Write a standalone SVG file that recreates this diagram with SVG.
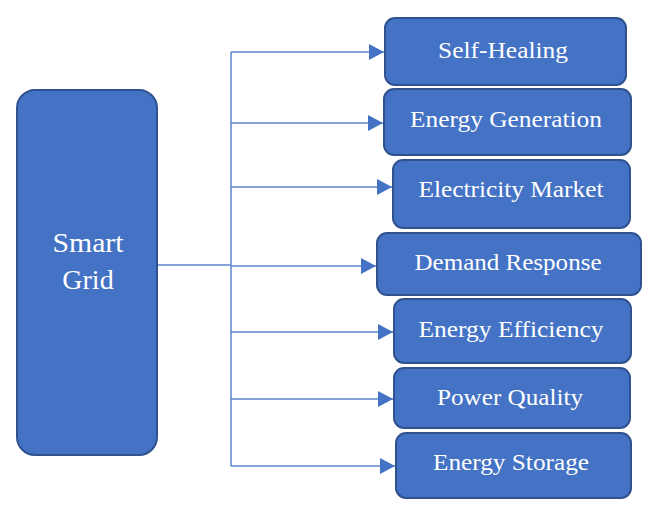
<svg xmlns="http://www.w3.org/2000/svg" width="662" height="512" viewBox="0 0 662 512">
  <style>
    .box { fill: #4472C4; stroke: #2F528F; stroke-width: 2; }
    .lbl { font-family: 'Liberation Serif', 'Times New Roman', serif; fill: #ffffff; text-anchor: middle; font-size: 23px; }
    .big { font-size: 28px; }
    .conn { fill: none; stroke: #5B84CC; stroke-width: 1.5; }
  </style>
  <defs>
    <marker id="arr" markerUnits="userSpaceOnUse" markerWidth="15" markerHeight="16" refX="15" refY="8" orient="auto">
      <path d="M0,0 L15,8 L0,16 Z" fill="#4472C4"/>
    </marker>
  </defs>
  <rect width="662" height="512" fill="#ffffff"/>
  <g id="connectors">
    <path class="conn" d="M157,265 H231"/>
    <path class="conn" d="M231,52 V466"/>
    <path class="conn" d="M231,52 H384" marker-end="url(#arr)"/>
    <path class="conn" d="M231,123 H383" marker-end="url(#arr)"/>
    <path class="conn" d="M231,187 H392" marker-end="url(#arr)"/>
    <path class="conn" d="M231,266 H376" marker-end="url(#arr)"/>
    <path class="conn" d="M231,332 H393" marker-end="url(#arr)"/>
    <path class="conn" d="M231,399 H393" marker-end="url(#arr)"/>
    <path class="conn" d="M231,466 H395" marker-end="url(#arr)"/>
  </g>
  <g id="smart-grid">
    <rect class="box" x="17" y="90" width="140" height="365" rx="18"/>
    <text class="lbl big" x="88" y="252" textLength="71" lengthAdjust="spacingAndGlyphs">Smart</text>
    <text class="lbl big" x="88" y="289">Grid</text>
  </g>
  <g id="self-healing">
    <rect class="box" x="385" y="18" width="241" height="67" rx="10"/>
    <text class="lbl" x="503" y="58" textLength="130" lengthAdjust="spacingAndGlyphs">Self-Healing</text>
  </g>
  <g id="energy-generation">
    <rect class="box" x="384" y="89" width="247" height="66" rx="10"/>
    <text class="lbl" x="506" y="127" textLength="192" lengthAdjust="spacingAndGlyphs">Energy Generation</text>
  </g>
  <g id="electricity-market">
    <rect class="box" x="393" y="160" width="237" height="68" rx="10"/>
    <text class="lbl" x="511" y="197" textLength="185" lengthAdjust="spacingAndGlyphs">Electricity Market</text>
  </g>
  <g id="demand-response">
    <rect class="box" x="377" y="233" width="264" height="62" rx="10"/>
    <text class="lbl" x="508" y="270" textLength="187" lengthAdjust="spacingAndGlyphs">Demand Response</text>
  </g>
  <g id="energy-efficiency">
    <rect class="box" x="394" y="299" width="237" height="64" rx="10"/>
    <text class="lbl" x="511" y="337" textLength="185" lengthAdjust="spacingAndGlyphs">Energy Efficiency</text>
  </g>
  <g id="power-quality">
    <rect class="box" x="394" y="368" width="236" height="60" rx="10"/>
    <text class="lbl" x="510" y="405" textLength="146" lengthAdjust="spacingAndGlyphs">Power Quality</text>
  </g>
  <g id="energy-storage">
    <rect class="box" x="396" y="433" width="235" height="65" rx="10"/>
    <text class="lbl" x="511" y="470" textLength="156" lengthAdjust="spacingAndGlyphs">Energy Storage</text>
  </g>
</svg>
